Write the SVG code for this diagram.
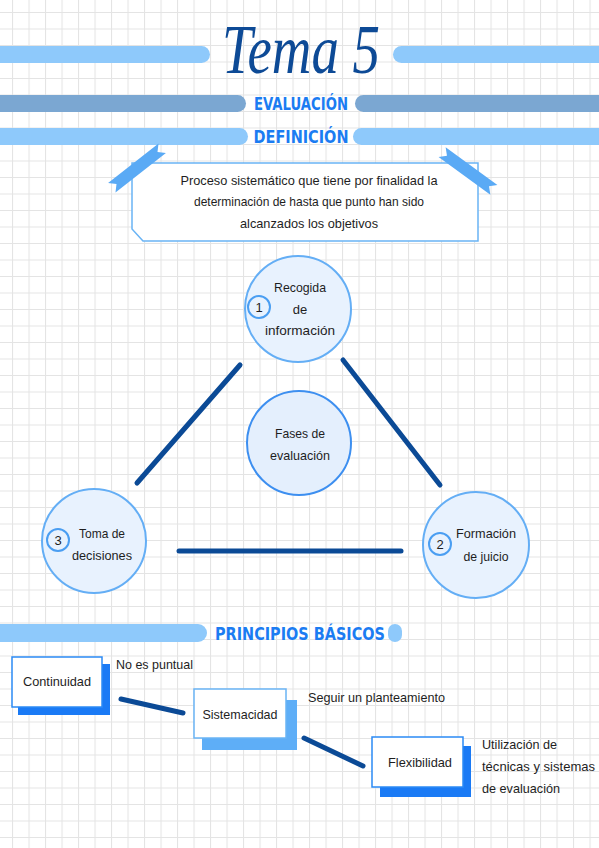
<svg xmlns="http://www.w3.org/2000/svg" width="599" height="848" viewBox="0 0 599 848">
<defs>
<pattern id="grid" x="12" y="12" width="16.5" height="16.5" patternUnits="userSpaceOnUse">
<path d="M0.5,0 V16.5 M0,0.5 H16.5" stroke="#e4e4e4" stroke-width="1.1" fill="none"/>
</pattern>
<polygon id="ribbon" points="-32,-6 32,-6 26,0 32,6 -32,6 -26,0"/>
</defs>
<style>
.bar-l{fill:#8ec9fb}
.bar-d{fill:#7ba7d2}
.hdr{font-family:"DejaVu Sans","Liberation Sans",sans-serif;font-weight:bold;font-size:18px;fill:#1b7cf2;text-anchor:middle}
.t{font-family:"Liberation Sans","DejaVu Sans",sans-serif;font-size:13px;fill:#1e1e1e}
.c{text-anchor:middle}
.circ{fill:#e8f2fe;stroke:#64aef5;stroke-width:2}
.circ2{fill:#e4effd;stroke:#3d8ff0;stroke-width:2}
.num{fill:#e8f2fe;stroke:#4a9ef2;stroke-width:2}
.link{stroke:#0b4a96;stroke-width:5;stroke-linecap:round;fill:none}
.box{fill:#ffffff;stroke-width:1.5}
</style>
<rect width="599" height="848" fill="#ffffff"/>
<rect width="599" height="848" fill="url(#grid)"/>

<g id="title">
<rect class="bar-l" x="-10" y="46" width="220" height="17" rx="8.5"/>
<rect class="bar-l" x="393" y="46" width="220" height="17" rx="8.5"/>
<text x="301" y="73" font-family="'Liberation Serif','DejaVu Serif',serif" font-style="italic" font-size="70" fill="#0d4a96" text-anchor="middle" textLength="158" lengthAdjust="spacingAndGlyphs">Tema 5</text>
</g>

<g id="evaluacion">
<rect class="bar-d" x="-10" y="95" width="256" height="17" rx="8.5"/>
<rect class="bar-d" x="355" y="95" width="260" height="17" rx="8.5"/>
<text class="hdr" x="301" y="110" textLength="94" lengthAdjust="spacingAndGlyphs">EVALUACIÓN</text>
</g>

<g id="definicion">
<rect class="bar-l" x="-10" y="128" width="258" height="17" rx="8.5"/>
<rect class="bar-l" x="353" y="128" width="260" height="17" rx="8.5"/>
<text class="hdr" x="301" y="143" textLength="95" lengthAdjust="spacingAndGlyphs">DEFINICIÓN</text>
</g>

<g id="def-box">
<path d="M132,163 H478 V241 H143 L132,229 Z" fill="#ffffff" stroke="#6ab4f5" stroke-width="1.5"/>
<use href="#ribbon" fill="#5aaaf5" transform="translate(137,168) rotate(-38)"/>
<use href="#ribbon" fill="#5aaaf5" transform="translate(468,171) rotate(36)"/>
<text class="t c" x="309" y="185" textLength="257" lengthAdjust="spacingAndGlyphs">Proceso sistemático que tiene por finalidad la</text>
<text class="t c" x="309" y="206" textLength="230" lengthAdjust="spacingAndGlyphs">determinación de hasta que punto han sido</text>
<text class="t c" x="309" y="228" textLength="138" lengthAdjust="spacingAndGlyphs">alcanzados los objetivos</text>
</g>

<g id="connectors">
<line class="link" x1="240" y1="365" x2="137" y2="483"/>
<line class="link" x1="343" y1="360" x2="440" y2="485"/>
<line class="link" x1="179" y1="551" x2="401" y2="551"/>
<line class="link" x1="121" y1="699" x2="183" y2="713"/>
<line class="link" x1="304" y1="738" x2="363" y2="766"/>
</g>

<g id="recogida">
<circle class="circ" cx="298" cy="309" r="53"/>
<circle class="num" cx="259" cy="307" r="11"/>
<text class="t c" x="259" y="312">1</text>
<text class="t c" x="300" y="292" textLength="52" lengthAdjust="spacingAndGlyphs">Recogida</text>
<text class="t c" x="300" y="314">de</text>
<text class="t c" x="300" y="335" textLength="70" lengthAdjust="spacingAndGlyphs">información</text>
</g>

<g id="fases">
<circle class="circ2" cx="299" cy="443" r="52"/>
<text class="t c" x="300" y="438" textLength="50" lengthAdjust="spacingAndGlyphs">Fases de</text>
<text class="t c" x="300" y="460" textLength="60" lengthAdjust="spacingAndGlyphs">evaluación</text>
</g>

<g id="toma">
<circle class="circ" cx="94" cy="541" r="52"/>
<circle class="num" cx="58" cy="540" r="11"/>
<text class="t c" x="58" y="545">3</text>
<text class="t c" x="102" y="538" textLength="46" lengthAdjust="spacingAndGlyphs">Toma de</text>
<text class="t c" x="102" y="560" textLength="60" lengthAdjust="spacingAndGlyphs">decisiones</text>
</g>

<g id="formacion">
<circle class="circ" cx="476" cy="545" r="53"/>
<circle class="num" cx="440" cy="544" r="11"/>
<text class="t c" x="440" y="549">2</text>
<text class="t c" x="486" y="538" textLength="60" lengthAdjust="spacingAndGlyphs">Formación</text>
<text class="t c" x="486" y="561" textLength="45" lengthAdjust="spacingAndGlyphs">de juicio</text>
</g>

<g id="principios">
<rect class="bar-l" x="-10" y="624" width="217" height="18" rx="9"/>
<rect class="bar-l" x="388" y="624" width="14" height="18" rx="7"/>
<text class="hdr" x="300" y="640" textLength="170" lengthAdjust="spacingAndGlyphs">PRINCIPIOS BÁSICOS</text>
</g>

<g id="continuidad">
<rect x="18" y="664" width="92" height="51" fill="#1a7af5"/>
<rect class="box" x="12" y="657" width="90" height="50" stroke="#2b8af5"/>
<text class="t c" x="57" y="686" textLength="68" lengthAdjust="spacingAndGlyphs">Continuidad</text>
<text class="t" x="116" y="669" textLength="77" lengthAdjust="spacingAndGlyphs">No es puntual</text>
</g>

<g id="sistemacidad">
<rect x="202" y="700" width="95" height="50" fill="#5eaef7"/>
<rect class="box" x="194" y="689" width="92" height="49" stroke="#6ab4f5"/>
<text class="t c" x="240" y="719" textLength="75" lengthAdjust="spacingAndGlyphs">Sistemacidad</text>
<text class="t" x="308" y="702" textLength="137" lengthAdjust="spacingAndGlyphs">Seguir un planteamiento</text>
</g>

<g id="flexibilidad">
<rect x="380" y="746" width="91" height="51" fill="#1a7af5"/>
<rect class="box" x="372" y="737" width="91" height="50" stroke="#2b8af5"/>
<text class="t c" x="420" y="767" textLength="64" lengthAdjust="spacingAndGlyphs">Flexibilidad</text>
<text class="t" x="482" y="749" textLength="75" lengthAdjust="spacingAndGlyphs">Utilización de</text>
<text class="t" x="482" y="771" textLength="113" lengthAdjust="spacingAndGlyphs">técnicas y sistemas</text>
<text class="t" x="482" y="793" textLength="78" lengthAdjust="spacingAndGlyphs">de evaluación</text>
</g>
</svg>
